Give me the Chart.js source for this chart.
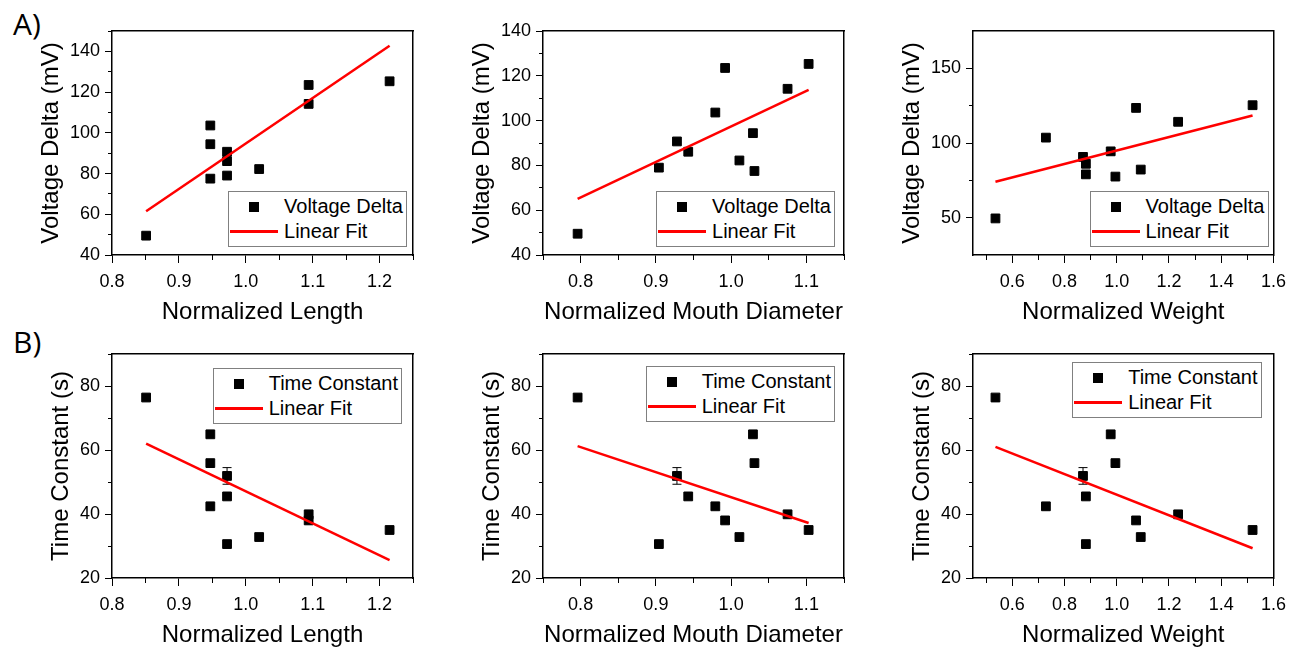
<!DOCTYPE html>
<html>
<head>
<meta charset="utf-8">
<title>Voltage Delta / Time Constant vs normalized size</title>
<script src="https://cdn.jsdelivr.net/npm/chart.js@4.4.1/dist/chart.umd.min.js"></script>
<style>
    html, body { margin: 0; padding: 0; background: #fff; }
    body { width: 1299px; height: 650px; position: relative; overflow: hidden;
           font-family: 'Liberation Sans', Arial, sans-serif; color: #000; }
    .panel-tag { position: absolute; font-family: 'Open Sans', sans-serif; font-size: 30px; line-height: 30px; }
    .panel { position: absolute; }
    .legend { position: absolute; background: #fff; border: 1px solid #808080;
              padding: 2px 3px 2px 1px; font-size: 20px; line-height: 25px; }
    .legend-row { display: flex; align-items: center; height: 25px; white-space: nowrap; }
    .legend-mark { width: 48px; margin-right: 6px; display: flex; justify-content: center; align-items: center; }
    .mark-square { width: 10px; height: 10px; }
    .mark-line { width: 48px; height: 3px; }
</style>
</head>
<body>

<div class="panel-tag" style="left:13px; top:9px">A)</div>
<div class="panel-tag" style="left:13px; top:327px">B)</div>

<script>
/* ── DATOS (11 muestras) ────────────────────────────────── */
const normLength   = [0.851, 0.972, 0.972, 0.972, 0.947, 1.094, 1.020, 0.947, 0.947, 1.094, 1.215];
const normMouth    = [0.796, 0.904, 0.928, 0.943, 0.979, 0.992, 1.011, 1.029, 1.031, 1.075, 1.103];
const normWeight   = [0.536, 0.882, 0.871, 0.882, 0.729, 1.074, 1.092, 0.977, 0.995, 1.235, 1.520];
const voltageDelta = [49.5, 79.0, 90.7, 86.1, 103.6, 123.5, 82.2, 94.4, 77.5, 114.2, 125.3];
const timeConstant = [76.4, 30.6, 51.9, 45.5, 42.4, 38.0, 32.8, 64.9, 55.9, 39.9, 35.0];
const timeConstErr = [0, 0, 2.6, 0, 0, 0, 0, 0, 0, 0, 0];

// Rectas "Linear Fit": extremos leídos
const fitLengthX     = [0.851, 1.215];
const fitMouthX      = [0.796, 1.103];
const fitWeightX     = [0.536, 1.520];
const fitVoltLengthY = [61.5, 142.8];
const fitVoltMouthY  = [65.1, 113.7];
const fitVoltWeightY = [74.0, 118.4];
const fitTimeLengthY = [62.0, 25.6];
const fitTimeMouthY  = [61.2, 37.2];
const fitTimeWeightY = [61.0, 29.3];

// Ticks
const ticksLength  = [0.8, 0.9, 1.0, 1.1, 1.2];
const minorLength  = [0.85, 0.95, 1.05, 1.15, 1.25];
const ticksMouth   = [0.8, 0.9, 1.0, 1.1];
const minorMouth   = [0.75, 0.85, 0.95, 1.05, 1.15];
const ticksWeight  = [0.6, 0.8, 1.0, 1.2, 1.4, 1.6];
const minorWeight  = [0.5, 0.7, 0.9, 1.1, 1.3, 1.5];
const ticksVolt    = [40, 60, 80, 100, 120, 140];
const minorVolt    = [50, 70, 90, 110, 130, 150];
const ticksVoltW   = [50, 100, 150];
const minorVoltW   = [75, 125];
const ticksTime    = [20, 40, 60, 80];
const minorTime    = [30, 50, 70, 90];

/* ── CONFIG DE PANELES ─────────────────────────────────── */
const panels = [
    { x: normLength, y: voltageDelta, fitX: fitLengthX, fitY: fitVoltLengthY,
      xr: [0.8, 1.25], yr: [40, 150], xt: ticksLength, xm: minorLength, yt: ticksVolt, ym: minorVolt,
      xTitle: 'Normalized Length', yTitle: 'Voltage Delta (mV)', label: 'Voltage Delta',
      left: 112, top: 31, yw: 75, legend: { anchor: 'bottom', dx: 6, dy: 8 } },
    { x: normMouth, y: voltageDelta, fitX: fitMouthX, fitY: fitVoltMouthY,
      xr: [0.75, 1.15], yr: [40, 140], xt: ticksMouth, xm: minorMouth, yt: ticksVolt, ym: minorVolt,
      xTitle: 'Normalized Mouth Diameter', yTitle: 'Voltage Delta (mV)', label: 'Voltage Delta',
      left: 543, top: 31, yw: 75, legend: { anchor: 'bottom', dx: 9, dy: 8 } },
    { x: normWeight, y: voltageDelta, fitX: fitWeightX, fitY: fitVoltWeightY,
      xr: [0.45, 1.6], yr: [25, 175], xt: ticksWeight, xm: minorWeight, yt: ticksVoltW, ym: minorVoltW,
      xTitle: 'Normalized Weight', yTitle: 'Voltage Delta (mV)', label: 'Voltage Delta',
      left: 973, top: 31, yw: 75, legend: { anchor: 'bottom', dx: 5, dy: 8 } },
    { x: normLength, y: timeConstant, err: timeConstErr, fitX: fitLengthX, fitY: fitTimeLengthY,
      xr: [0.8, 1.25], yr: [20, 90], xt: ticksLength, xm: minorLength, yt: ticksTime, ym: minorTime,
      xTitle: 'Normalized Length', yTitle: 'Time Constant (s)', label: 'Time Constant',
      left: 112, top: 354, yw: 65, legend: { anchor: 'top', dx: 11, dy: 14 } },
    { x: normMouth, y: timeConstant, err: timeConstErr, fitX: fitMouthX, fitY: fitTimeMouthY,
      xr: [0.75, 1.15], yr: [20, 90], xt: ticksMouth, xm: minorMouth, yt: ticksTime, ym: minorTime,
      xTitle: 'Normalized Mouth Diameter', yTitle: 'Time Constant (s)', label: 'Time Constant',
      left: 543, top: 354, yw: 65, legend: { anchor: 'top', dx: 9, dy: 12 } },
    { x: normWeight, y: timeConstant, err: timeConstErr, fitX: fitWeightX, fitY: fitTimeWeightY,
      xr: [0.45, 1.6], yr: [20, 90], xt: ticksWeight, xm: minorWeight, yt: ticksTime, ym: minorTime,
      xTitle: 'Normalized Weight', yTitle: 'Time Constant (s)', label: 'Time Constant',
      left: 973, top: 354, yw: 65, legend: { anchor: 'top', dx: 12, dy: 8 } },
];

const PLOT_W = 301, PLOT_H = 224, PAD = 20, XAXIS_H = 72;

Chart.defaults.font.family = "'Liberation Sans', Arial, sans-serif";
Chart.defaults.color = '#000';

// Leyenda HTML con recuadro, anclada al chartArea
const htmlLegend = {
    id: 'htmlLegend',
    afterUpdate(chart, args, opts) {
        const box = document.getElementById(opts.boxId);
        if (!box) return;
        box.innerHTML = '';
        chart.data.datasets.filter(d => d.label).forEach(d => {
            const row = document.createElement('div');
            row.className = 'legend-row';
            const mark = document.createElement('span');
            mark.className = 'legend-mark';
            const sym = document.createElement('span');
            sym.className = d.showLine ? 'mark-line' : 'mark-square';
            sym.style.background = d.showLine ? d.borderColor : d.backgroundColor;
            mark.appendChild(sym);
            const txt = document.createElement('span');
            txt.textContent = d.label;
            row.append(mark, txt);
            box.appendChild(row);
        });
        const a = chart.chartArea;
        box.style.right = (chart.width - a.right + opts.dx) + 'px';
        if (opts.anchor === 'bottom') box.style.bottom = (chart.height - a.bottom + opts.dy) + 'px';
        else box.style.top = (a.top + opts.dy) + 'px';
    }
};

const fixedTicks = vals => s => { s.ticks = vals.map(v => ({ value: v })); };

panels.forEach((p, i) => {
    const wrap = document.createElement('div');
    wrap.className = 'panel';
    wrap.style.left = (p.left - p.yw) + 'px';
    wrap.style.top = (p.top - PAD) + 'px';
    const canvas = document.createElement('canvas');
    canvas.width = p.yw + PLOT_W + PAD;
    canvas.height = PAD + PLOT_H + XAXIS_H;
    const legendBox = document.createElement('div');
    legendBox.className = 'legend';
    legendBox.id = 'legend-' + i;
    wrap.append(canvas, legendBox);
    document.body.appendChild(wrap);

    const datasets = [
        {
            label: p.label,
            data: p.x.map((v, k) => ({ x: v, y: p.y[k] })),
            pointStyle: 'rect',
            pointRadius: 6.2,
            borderWidth: 1,
            backgroundColor: '#000',
            borderColor: '#000',
            order: 0
        },
        {
            label: 'Linear Fit',
            data: p.fitX.map((v, k) => ({ x: v, y: p.fitY[k] })),
            showLine: true,
            borderColor: '#ff0000',
            backgroundColor: '#ff0000',
            borderWidth: 2.5,
            pointRadius: 0,
            order: -1
        }
    ];
    // barras de error (solo donde hay valor)
    if (p.err) {
        p.err.forEach((e, k) => {
            if (!e) return;
            datasets.push({
                data: [{ x: p.x[k], y: p.y[k] - e }, { x: p.x[k], y: p.y[k] + e }],
                showLine: true,
                borderColor: '#000',
                borderWidth: 1,
                pointStyle: 'line',
                pointRadius: 4.5,
                pointBorderWidth: 1,
                pointBorderColor: '#000',
                order: 1
            });
        });
    }
    datasets.forEach(d => { d.xAxisID = 'x'; d.yAxisID = 'y'; });

    const tickGrid = len => ({ display: true, drawOnChartArea: false, drawTicks: true,
                               tickLength: len, tickColor: '#000', tickWidth: 1, lineWidth: 1 });
    const frame = { display: true, color: '#000', width: 1.5 };

    new Chart(canvas, {
        type: 'scatter',
        data: { datasets },
        options: {
            responsive: false,
            animation: false,
            layout: { padding: 0 },
            plugins: {
                legend: { display: false },
                tooltip: { enabled: false },
                htmlLegend: { boxId: legendBox.id, anchor: p.legend.anchor, dx: p.legend.dx, dy: p.legend.dy }
            },
            scales: {
                x: {
                    type: 'linear', position: 'bottom', weight: 1, min: p.xr[0], max: p.xr[1],
                    afterBuildTicks: fixedTicks(p.xt),
                    afterFit: s => { s.height = XAXIS_H; },
                    ticks: { font: { size: 18 }, color: '#000', padding: 8, autoSkip: false,
                             maxRotation: 0, callback: v => v.toFixed(1) },
                    grid: tickGrid(8),
                    border: frame,
                    title: { display: true, text: p.xTitle, font: { size: 24 }, color: '#000',
                             padding: { top: 0, bottom: 0 } }
                },
                xMinor: {
                    type: 'linear', position: 'bottom', weight: 0, min: p.xr[0], max: p.xr[1],
                    afterBuildTicks: fixedTicks(p.xm),
                    afterFit: s => { s.height = 0; },
                    ticks: { display: false },
                    grid: tickGrid(5),
                    border: { display: false }
                },
                xTop: {
                    type: 'linear', position: 'top', min: p.xr[0], max: p.xr[1],
                    afterFit: s => { s.height = PAD; },
                    ticks: { display: false },
                    grid: { display: false },
                    border: frame
                },
                y: {
                    type: 'linear', position: 'left', weight: 1, min: p.yr[0], max: p.yr[1],
                    afterBuildTicks: fixedTicks(p.yt),
                    afterFit: s => { s.width = p.yw; },
                    ticks: { font: { size: 18 }, color: '#000', padding: 5, autoSkip: false },
                    grid: tickGrid(7),
                    border: frame,
                    title: { display: true, text: p.yTitle, font: { size: 24 }, color: '#000',
                             padding: { top: 0, bottom: 0 } }
                },
                yMinor: {
                    type: 'linear', position: 'left', weight: 0, min: p.yr[0], max: p.yr[1],
                    afterBuildTicks: fixedTicks(p.ym),
                    afterFit: s => { s.width = 0; },
                    ticks: { display: false },
                    grid: tickGrid(4),
                    border: { display: false }
                },
                yRight: {
                    type: 'linear', position: 'right', min: p.yr[0], max: p.yr[1],
                    afterFit: s => { s.width = PAD; },
                    ticks: { display: false },
                    grid: { display: false },
                    border: frame
                }
            }
        },
        plugins: [htmlLegend]
    });
});
</script>
</body>
</html>
